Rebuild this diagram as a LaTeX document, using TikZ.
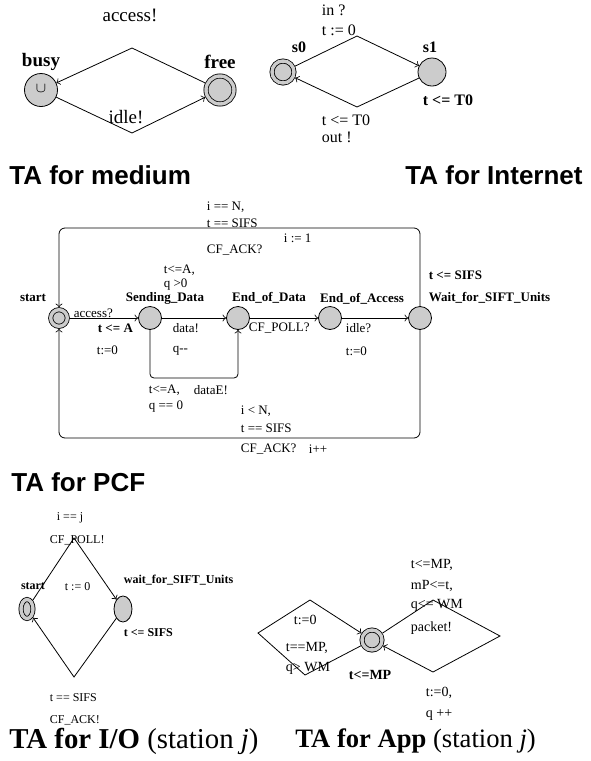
\documentclass[tikz,border=0pt]{standalone}
\usepackage{fontspec}
\setmainfont{Liberation Serif}
\newfontfamily\headfont{Liberation Sans}
\usetikzlibrary{arrows,shapes.geometric}

\tikzset{
  loc/.style={circle,draw,fill=gray!40,inner sep=0pt},
  initloc/.style={loc,double=gray!40,double distance=1.7pt,outer sep=1.25pt},
  txt/.style={anchor=west,inner sep=0.75pt},
  head/.style={anchor=west,inner sep=0pt,font=\headfont\bfseries\fontsize{13}{15}\selectfont},
  capt/.style={anchor=west,inner sep=0pt,font=\fontsize{14}{16}\selectfont},
}

\begin{document}
\begin{tikzpicture}[x=0.5pt,y=0.5pt,yscale=-1,xscale=1]
\useasboundingbox (0,0) rectangle (590,761);

%TA for medium
\begin{scope}[every node/.append style={font=\fontsize{9.5}{11}\selectfont}]
\node [loc,minimum size=16.5pt] (busy) at (41,90) {};
\node [inner sep=0pt,font=\fontsize{7.5}{8}\selectfont] (busyU) at (41,89) {$\cup$};
\node [initloc,minimum size=14pt] (free) at (220,90) {};
\draw [->] (free) -- (132,48) -- (busy);
\draw [->] (busy) -- (132,133) -- (free);
% Text Node
\node (accessM) at (130,15) {access!};
\node (busyL) at (41,62) {\textbf{busy}};
\node (freeL) at (220,62) {\textbf{free}};
\node (idleM) at (126,117) {idle!};
\end{scope}
\node [head] (headMedium) at (9,175) {TA for medium};

%TA for Internet
\begin{scope}[every node/.append style={font=\fontsize{8}{9.5}\selectfont}]
\node [initloc,minimum size=11pt] (s0) at (283,72) {};
\node [loc,minimum size=14pt] (s1) at (432,72) {};
\draw [->] (s0) -- (357,36) -- (s1);
\draw [->] (s1) -- (357,107) -- (s0);
% Text Node
\node [txt] (inI) at (320,10) {in ?};
\node [txt] (resetI) at (320,30) {t := 0};
\node (s0L) at (299,47) {\textbf{s0}};
\node (s1L) at (430,47) {\textbf{s1}};
\node [txt] (invI) at (421,100) {\textbf{t <= T0}};
\node [txt] (guardI) at (320,120) {t <= T0};
\node [txt] (outI) at (320,137) {out !};
\end{scope}
\node [head,anchor=east] (headInternet) at (583,175) {TA for Internet};

%TA for PCF
\begin{scope}[every node/.append style={font=\fontsize{6.5}{7.5}\selectfont}]
\node [initloc,minimum size=8.3pt] (start) at (59,318) {};
\node [loc,minimum size=11.5pt] (sending) at (150,318) {};
\node [loc,minimum size=11.5pt] (endData) at (238,318) {};
\node [loc,minimum size=11.5pt] (endAccess) at (330,318) {};
\node [loc,minimum size=11.5pt] (waitSIFT) at (420,318) {};
\draw [->] (start) -- (sending);
\draw [->] (sending) -- (endData);
\draw [->] (endData) -- (endAccess);
\draw [->] (endAccess) -- (waitSIFT);
\draw [->,rounded corners=2pt] (sending) |- (194,378) -| (endData);
\draw [->,rounded corners=3pt] (waitSIFT) |- (240,228) -| (start);
\draw [->,rounded corners=3pt] (waitSIFT) |- (240,438) -| (start);
% Text Node
\node [txt] (gTopA) at (205,207) {i == N,};
\node [txt] (gTopB) at (205,223) {t == SIFS};
\node [txt] (syncTop) at (205,250) {CF\_ACK?};
\node [txt] (updTop) at (282,238) {i := 1};
\node [txt] (gDataA) at (162,270) {t<=A,};
\node [txt] (gDataB) at (162,285) {q >0};
\node (startL) at (33,298) {\textbf{start}};
\node (sendingL) at (165,298) {\textbf{Sending\_Data}};
\node (endDataL) at (269,298) {\textbf{End\_of\_Data}};
\node (endAccessL) at (362,299) {\textbf{End\_of\_Access}};
\node [txt] (invWait) at (427,275) {\textbf{t <= SIFS}};
\node [txt] (waitL) at (427,298) {\textbf{Wait\_for\_SIFT\_Units}};
\node [txt] (accessP) at (72,313) {access?};
\node [txt] (invSend) at (96,328) {\textbf{t <= A}};
\node [txt] (resetP) at (95,350) {t:=0};
\node [txt] (dataP) at (171,328) {data!};
\node [txt] (decP) at (171,351) {q-{}-};
\node [txt] (pollP) at (247,328) {CF\_POLL?};
\node [txt] (idleP) at (344,328) {idle?};
\node [txt] (resetQ) at (344,351) {t:=0};
\node [txt] (gLoopA) at (147,390) {t<=A,};
\node [txt] (dataEP) at (192,390) {dataE!};
\node [txt] (gLoopB) at (147,407) {q == 0};
\node [txt] (gBotA) at (239,411) {i < N,};
\node [txt] (gBotB) at (239,428) {t == SIFS};
\node [txt] (syncBot) at (239,449) {CF\_ACK?};
\node [txt] (updBot) at (307,449) {i++};
\end{scope}
\node [head] (headPCF) at (11,482) {TA for PCF};

%TA for I/O
\begin{scope}[every node/.append style={font=\fontsize{6}{7}\selectfont}]
\node [initloc,ellipse,minimum width=6pt,minimum height=9.5pt] (ioStart) at (27,609) {};
\node [loc,ellipse,minimum width=9pt,minimum height=13pt] (ioWait) at (123,609) {};
\draw [->] (ioStart) -- (74,538) -- (ioWait);
\draw [->] (ioWait) -- (74,677) -- (ioStart);
% Text Node
\node [txt] (gPoll) at (55,518) {i == j};
\node [txt] (syncPoll) at (48,540) {CF\_POLL!};
\node [txt] (resetIO) at (63,587) {t := 0};
\node (ioStartL) at (33,586) {\textbf{start}};
\node [txt] (ioWaitL) at (122,580) {\textbf{wait\_for\_SIFT\_Units}};
\node [txt] (invIO) at (122,633) {\textbf{t <= SIFS}};
\node [txt] (gAck) at (48,698) {t == SIFS};
\node [txt] (syncAck) at (48,720) {CF\_ACK!};
\end{scope}
\node [capt,font=\fontsize{14.4}{16}\selectfont] (capIO) at (9,741) {\textbf{TA for I/O} (station \textit{j})};

%TA for App
\begin{scope}[every node/.append style={font=\fontsize{7}{8}\selectfont}]
\node [initloc,minimum size=10pt] (app) at (372,640) {};
\draw [->] (app) -- (305,675) -- (258,633) -- (310,600) -- (app);
\draw [->] (app) -- (433,600) -- (500,636) -- (433,672) -- (app);
% Text Node
\node [txt] (gPktA) at (409,565) {t<=MP,};
\node [txt] (gPktB) at (409,586) {mP<=t,};
\node [txt] (gPktC) at (409,605) {q<= WM};
\node [txt] (syncPkt) at (409,628) {packet!};
\node [txt] (updPktA) at (424,693) {t:=0,};
\node [txt] (updPktB) at (424,715) {q ++};
\node [txt] (resetApp) at (292,620) {t:=0};
\node [txt] (gDropA) at (284,648) {t==MP,};
\node [txt] (gDropB) at (284,668) {q> WM};
\node [txt] (invApp) at (347,675) {\textbf{t<=MP}};
\end{scope}
\node [capt,font=\fontsize{13.3}{15}\selectfont] (capApp) at (295,741) {\textbf{TA for App} (station \textit{j})};

\end{tikzpicture}
\end{document}
